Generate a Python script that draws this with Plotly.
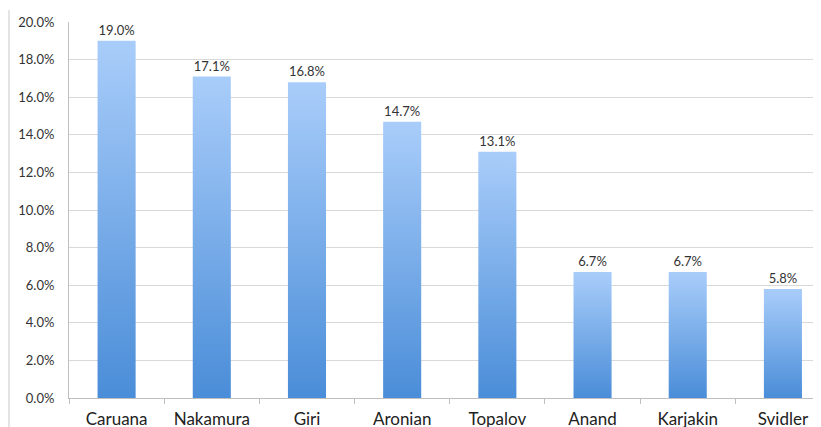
import plotly.graph_objects as go

players = ["Caruana", "Nakamura", "Giri", "Aronian", "Topalov", "Anand", "Karjakin", "Svidler"]
shares = [19.0, 17.1, 16.8, 14.7, 13.1, 6.7, 6.7, 5.8]
y_ticks = [0, 2, 4, 6, 8, 10, 12, 14, 16, 18, 20]

half = 0.2
fig = go.Figure()

# carrier bar trace: category axis + data labels
fig.add_trace(go.Bar(
    x=players, y=shares, width=2 * half,
    marker=dict(color="rgba(0,0,0,0)", line=dict(width=0)),
    text=[f"{v:.1f}%" for v in shares], textposition="outside",
    textfont=dict(family="Lato", size=13, color="#333333"),
    cliponaxis=False, hoverinfo="skip", showlegend=False,
))

# gradient-filled bars on an overlaid linear axis
for i, v in enumerate(shares):
    fig.add_trace(go.Scatter(
        x=[i - half, i + half, i + half, i - half, i - half],
        y=[0, 0, v, v, 0],
        xaxis="x2", mode="lines", line=dict(width=0),
        fill="toself",
        fillgradient=dict(type="vertical",
                          colorscale=[[0, "#4a8dd8"], [1, "#a9cdfa"]]),
        hoverinfo="skip", showlegend=False,
    ))

xr = [-0.5, 7.4]
fig.update_layout(
    width=813, height=419,
    margin=dict(l=61, r=0, t=14, b=29, autoexpand=False),
    paper_bgcolor="white", plot_bgcolor="white",
    font=dict(family="Lato", color="#333333"),
    bargap=0.6,
    xaxis=dict(type="category", range=xr, showgrid=False,
               showline=True, linecolor="#bfbfbf", linewidth=1,
               ticks="outside", tickson="boundaries", ticklen=5, tickcolor="#bfbfbf",
               tickfont=dict(family="Lato", size=17, color="#222222"),
               ticklabelstandoff=6),
    xaxis2=dict(overlaying="x", range=xr, visible=False),
    yaxis=dict(range=[0, 20], tickvals=y_ticks,
               ticktext=[f"{t:.1f}%" for t in y_ticks],
               showgrid=True, gridcolor="#d9d9d9", gridwidth=1,
               showline=True, linecolor="#bfbfbf", linewidth=1,
               ticks="", zeroline=False,
               tickfont=dict(family="Lato", size=13, color="#333333"),
               ticklabelstandoff=11),
    shapes=[dict(type="line", xref="paper", yref="paper",
                 x0=-60 / 752, x1=-60 / 752, y0=-29 / 376, y1=(376 + 12) / 376,
                 line=dict(color="#c8c8c8", width=1))],
)

fig.write_html("out.html")
